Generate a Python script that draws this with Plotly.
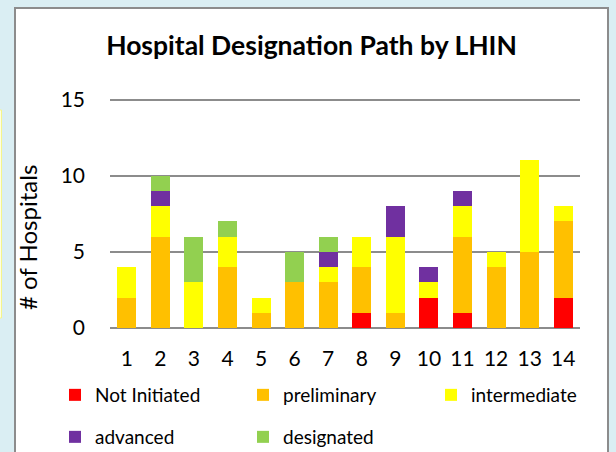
import plotly.graph_objects as go

lhins = [str(i) for i in range(1, 15)]
not_initiated = [0, 0, 0, 0, 0, 0, 0, 1, 0, 2, 1, 0, 0, 2]
preliminary   = [2, 6, 0, 4, 1, 3, 3, 3, 1, 0, 5, 4, 5, 5]
intermediate  = [2, 2, 3, 2, 1, 0, 1, 2, 5, 1, 2, 1, 6, 1]
advanced      = [0, 1, 0, 0, 0, 0, 1, 0, 2, 1, 1, 0, 0, 0]
designated    = [0, 1, 3, 1, 0, 2, 1, 0, 0, 0, 0, 0, 0, 0]
y_ticks = [0, 5, 10, 15]

series = [
    ("Not Initiated", not_initiated, "#FF0000", "legend"),
    ("preliminary", preliminary, "#FFC000", "legend"),
    ("intermediate", intermediate, "#FFFF00", "legend"),
    ("advanced", advanced, "#7030A0", "legend2"),
    ("designated", designated, "#92D050", "legend2"),
]

fig = go.Figure()
for name, vals, col, lg in series:
    fig.add_trace(go.Bar(x=lhins, y=vals, name=name, legend=lg,
                         marker=dict(color=col, line=dict(width=0))))

W, H = 616, 452
L, R, T, B = 110, 36, 95, 124
pw, ph = W - L - R, H - T - B

def px(x):
    return (x - L) / pw

def py(y):
    return 1 - (y - T) / ph

legend_common = dict(orientation="h", xanchor="left", yanchor="top",
                     entrywidth=143, entrywidthmode="pixels", itemwidth=30,
                     font=dict(size=19), bgcolor="rgba(0,0,0,0)",
                     traceorder="normal")

fig.update_layout(
    width=W, height=H,
    margin=dict(l=L, r=R, t=T, b=B, autoexpand=False),
    barmode="stack", bargap=0.434,
    paper_bgcolor="#DAEEF3", plot_bgcolor="white",
    font=dict(family="Lato, Open Sans, sans-serif", size=21, color="black"),
    title=dict(text="<b>Hospital Designation Path by LHIN</b>", x=311.5 / W, xanchor="center",
               y=1 - 46 / H, yanchor="middle", font=dict(size=26.5)),
    xaxis=dict(showgrid=False, ticks="", tickfont=dict(size=21), showline=False,
               ticklabelstandoff=16, automargin=False),
    yaxis=dict(range=[0, 15.3], tickvals=y_ticks, showgrid=True,
               gridcolor="#8C8C8C", gridwidth=1.5, zeroline=True, zerolinecolor="#8C8C8C",
               zerolinewidth=1.5, ticks="", ticklabelstandoff=24, tickfont=dict(size=21),
               automargin=False),
    legend=dict(x=px(55), y=py(376), **legend_common),
    legend2=dict(x=px(55), y=py(418), **legend_common),
    annotations=[
        dict(text="# of Hospitals", xref="paper", yref="paper", x=px(27), y=py(238),
             xanchor="center", yanchor="middle", textangle=-90, showarrow=False,
             font=dict(size=24)),
    ],
    shapes=[
        dict(type="rect", xref="paper", yref="paper", layer="below",
             x0=px(15), x1=px(608), y0=py(8), y1=py(460),
             fillcolor="white", line=dict(color="#8C8C8C", width=2)),
        dict(type="rect", xref="paper", yref="paper", layer="below",
             x0=px(-2), x1=px(1.5), y0=py(110), y1=py(318),
             fillcolor="#FFFFE0", line=dict(color="#F5F58C", width=1)),
    ],
)

fig.write_html("out.html", config={"displayModeBar": False},
               post_script="document.body.style.margin='0';")
